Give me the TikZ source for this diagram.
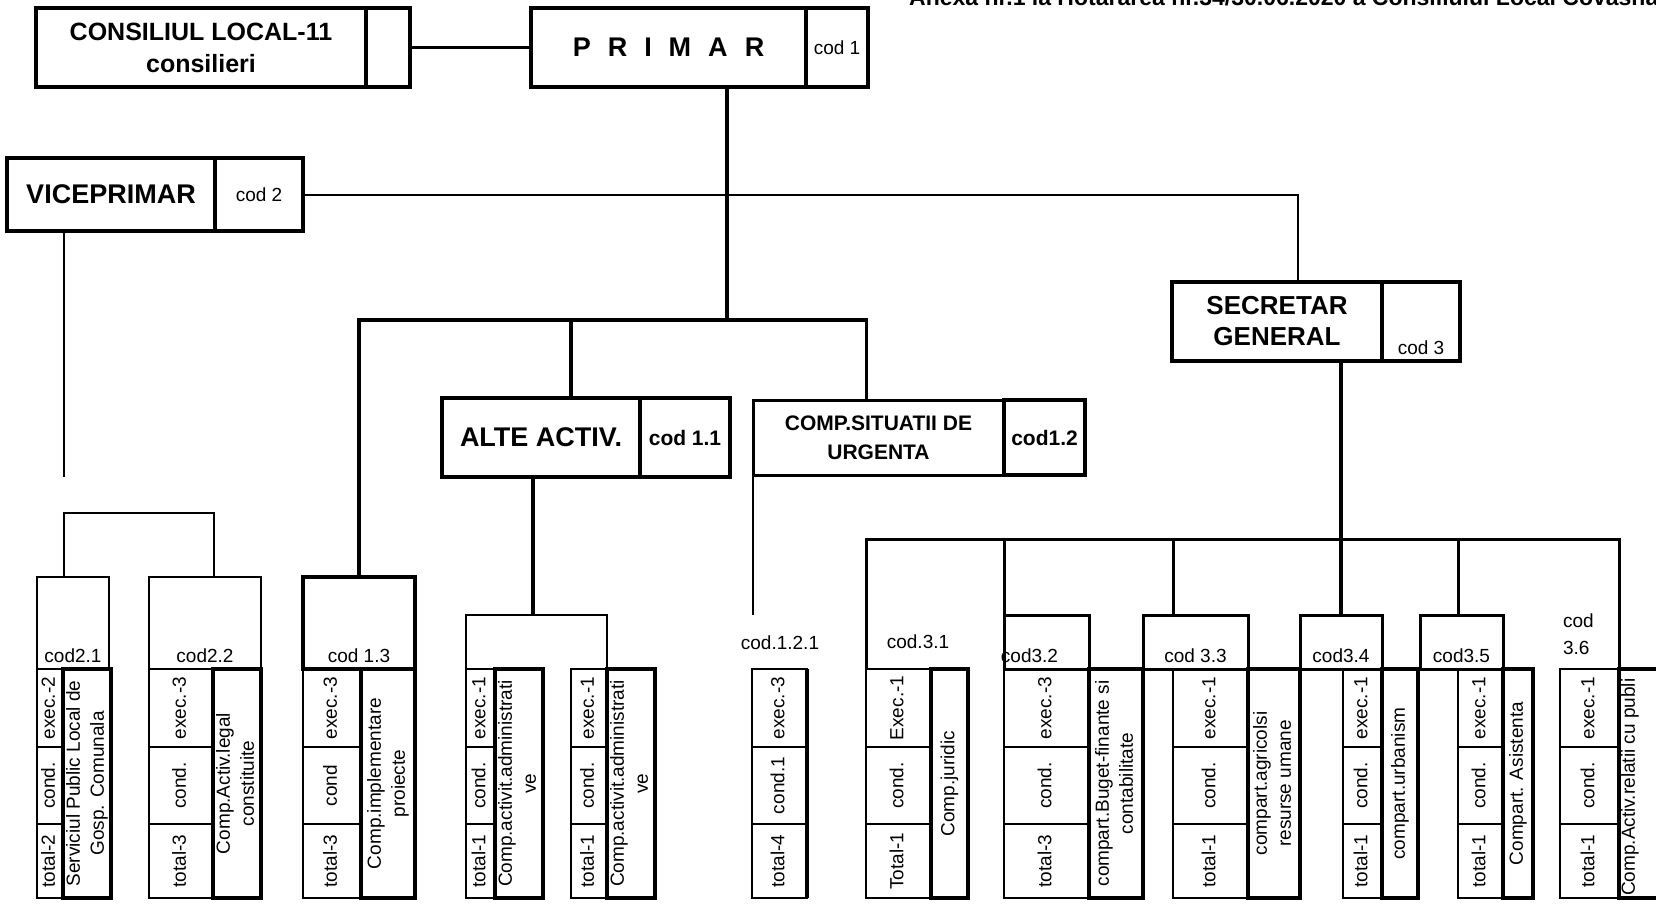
\documentclass[tikz,border=0pt]{standalone}
\usepackage{fontspec}
\setmainfont{Liberation Sans}
\usepackage{graphicx}
\usetikzlibrary{positioning}

\newcommand\vtxt[1]{\rotatebox{90}{\begin{tabular}{@{}c@{}}#1\end{tabular}}}
\newcommand\lsp{\hspace{17pt}}

\tikzset{
  boxat/.style args={#1,#2,#3,#4}{at={(#1,#2)}, anchor=north west,
    minimum width={(#3-#1)*1pt}, minimum height={(#4-#2)*1pt}},
  unit/.style={draw, inner sep=0pt, outer sep=0pt, align=center},
  bigbox/.style={unit, line width=4pt, font=\bfseries\fontsize{26}{31}\selectfont},
  midbox/.style={bigbox, font=\bfseries\fontsize{21}{29}\selectfont},
  codbox/.style={unit, line width=4pt, font=\fontsize{19}{22}\selectfont},
  hdbox/.style={unit, line width=2.5pt},
  cellbox/.style={unit, line width=2.5pt, font=\fontsize{19}{24}\selectfont},
  namebox/.style={cellbox, line width=3.5pt},
  codlbl/.style={inner sep=0pt, outer sep=0pt, font=\fontsize{19}{27}\selectfont},
  link/.style={line width=2.5pt},
  trunk/.style={line width=4pt}
}

\begin{document}
\begin{tikzpicture}[x=1pt, y=-1pt]
\useasboundingbox (0,0) rectangle (1656,905);

\node[anchor=base west, inner sep=0pt, font=\bfseries\fontsize{23}{27}\selectfont] (annex) at (909,5)
  {Anexa nr.1 la Hotararea nr.34/30.06.2020 a Consiliului Local Covasna};

% upper boxes
\node[bigbox, boxat={36,8,366,87}, font=\bfseries\fontsize{25}{32}\selectfont] (cons) {CONSILIUL LOCAL-11\\consilieri};
\node[bigbox, boxat={366,8,410,87}] (cons-c) {};
\node[bigbox, boxat={531,8,806,87}, font=\bfseries\fontsize{27}{31}\selectfont] (prim) {P\lsp R\lsp I\lsp M\lsp A\lsp R};
\node[codbox, boxat={806,8,868,87}] (prim-c) {cod 1};
\node[bigbox, boxat={7,158,215,231}, font=\bfseries\fontsize{27}{31}\selectfont] (vice) {VICEPRIMAR};
\node[codbox, boxat={215,158,303,231}] (vice-c) {cod 2};
\node[bigbox, boxat={1172,282,1382,361}] (sec) {SECRETAR\\GENERAL};
\node[codbox, boxat={1382,282,1460,361}] (sec-c) {};
\node[codlbl, above=6pt of sec-c.south] (sec-l) {cod 3};
\node[bigbox, boxat={442,398,640,477}, font=\bfseries\fontsize{27}{31}\selectfont] (alte) {ALTE ACTIV.};
\node[midbox, boxat={640,398,730,477}] (alte-c) {cod 1.1};
\node[midbox, line width=3pt, boxat={753,400,1004,475}] (comp) {COMP.SITUATII DE\\URGENTA};
\node[midbox, boxat={1004,400,1085,475}] (comp-c) {cod1.2};

% headers of the lower units
\foreach \id/\xa/\ya/\xb/\lw/\dx/\lbl in {u21/37/577/109/2.5/0/cod2.1, u22/149/577/261/2.5/0/cod2.2,
    u13/303/577/415/4/0/cod 1.3, u32/1004/615/1089/3/-17/cod3.2, u33/1143/615/1248/3/0/cod 3.3,
    u34/1300/615/1382/3/0/cod3.4, u35/1420/615/1503/3/0/cod3.5} {
  \node[hdbox, line width=\lw pt, boxat={\xa,\ya,\xb,669}] (\id-h) {};
  \node[codlbl, above=6pt of \id-h.south, xshift=\dx pt] (\id-l) {\lbl};
}
\node[codlbl] (u31-l) at (918,642) {cod.3.1};
\node[codlbl] (u121-l) at (780,643) {cod.1.2.1};
\node[codlbl, anchor=north west, align=left] (u36-l) at (1563,614) {cod\\3.6};

% columns: exec / cond / total and the name of the unit
\foreach \id/\xa/\xb/\xc/\vex/\vco/\vto/\vnm in {
    u21/37/63/108/exec.-2/cond./total-2/{Serviciul Public Local de\\Gosp. Comunala},
    u22/149/213/260/exec.-3/cond./total-3/{Comp.Activ.legal\\constituite},
    u13/303/361/415/exec.-3/cond/total-3/{Comp.implementare\\proiecte},
    ua1/466/495/533/exec.-1/cond./total-1/{Comp.activit.administrati\\ve},
    ua2/571/607/641/exec.-1/cond./total-1/{Comp.activit.administrati\\ve},
    u31/866/931/968/Exec.-1/cond./Total-1/{Comp.juridic},
    u32/1004/1089/1143/exec.-3/cond./total-3/{compart.Buget-finante si\\contabilitate},
    u33/1173/1248/1300/exec.-1/cond./total-1/{compart.agricolsi\\resurse umane},
    u34/1343/1382/1418/exec.-1/cond./total-1/{compart.urbanism},
    u35/1458/1503/1533/exec.-1/cond./total-1/{Compart. Asistenta},
    u36/1560/1619/1700/exec.-1/cond./total-1/{}} {
  \node[cellbox, boxat={\xa,669,\xb,747}] (\id-e) {\vtxt{\vex}};
  \node[cellbox, boxat={\xa,747,\xb,824}] (\id-c) {\vtxt{\vco}};
  \node[cellbox, boxat={\xa,824,\xb,898}] (\id-t) {\vtxt{\vto}};
  \node[namebox, boxat={\xb,669,\xc,898}] (\id-n) {\vtxt{\vnm}};
}
\node[rotate=90, anchor=west, inner sep=0pt, font=\fontsize{19}{24}\selectfont] (u36-x) at (1630,896) {Comp.Activ.relatii cu publi};
\node[cellbox, boxat={752,669,807,747}] (u121-e) {\vtxt{exec.-3}};
\node[cellbox, boxat={752,747,807,824}] (u121-c) {\vtxt{cond.1}};
\node[cellbox, boxat={752,824,807,898}] (u121-t) {\vtxt{total-4}};
\draw[namebox] (u121-e.north east) -- (u121-t.south east);

% links
\draw[link] (cons-c.east) -- (prim.west);
\coordinate (jp) at (727,320);
\draw[trunk] (jp |- prim.south) -- (jp);
\draw[line width=3.5pt] (u13-h.north) |- (jp) -| ([xshift=-12pt]comp.north);
\draw[line width=3.5pt] ([xshift=30pt]alte.north) -- ([xshift=30pt]alte.north |- jp);
\draw[line width=2pt] (vice-c.east) -| ([xshift=21pt]sec.north);
\coordinate (vend) at (64,477);
\draw[line width=2pt] (vend |- vice.south) -- (vend);
\coordinate (j2) at (64,513);
\draw[link] ([xshift=-9pt]u21-h.north) -- (j2) -| ([xshift=9pt]u22-h.north);
\coordinate (ja) at (533,615);
\draw[trunk] (ja |- alte.south) -- (ja);
\draw[link] (ua1-e.north west) |- (ja) -| (ua2-n.north west);
\coordinate (cend) at (753,615);
\draw[line width=2pt] (comp.south west) -- (cend);
\draw[line width=3.5pt] (u34-h.north |- sec.south) -- (u34-h.north);
\coordinate (jb) at (1342,539);
\draw[line width=3pt] (u31-e.north west) |- (jb) -| (u36-n.north west);
\draw[line width=3pt] (u32-h.north west) -- (u32-h.north west |- jb);
\draw[line width=3pt] (u33-e.north west |- u33-h.north) -- (u33-e.north west |- jb);
\draw[line width=3pt] (u35-e.north west |- u35-h.north) -- (u35-e.north west |- jb);
\end{tikzpicture}
\end{document}
